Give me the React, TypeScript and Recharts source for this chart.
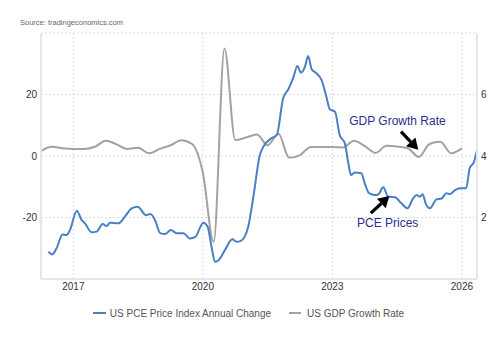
import React from 'react';
import {
  LineChart,
  Line,
  XAxis,
  YAxis,
  CartesianGrid,
  Legend,
  ReferenceLine,
  ReferenceDot,
} from 'recharts';

const FONT = 'Arial, "Liberation Sans", Helvetica, sans-serif';
const BLUE = '#4a7fc6';
const GRAY = '#a2a2a2';
const NAVY = '#2a2d8e';

// US GDP Growth Rate (left axis, %), quarterly
const gdpDates = [
  2016.25, 2016.5, 2016.75, 2017.0, 2017.25, 2017.5, 2017.75, 2018.0,
  2018.25, 2018.5, 2018.75, 2019.0, 2019.25, 2019.5, 2019.75, 2020.0,
  2020.25, 2020.5, 2020.75, 2021.0, 2021.25, 2021.5, 2021.75, 2022.0,
  2022.25, 2022.5, 2022.75, 2023.0, 2023.25, 2023.5, 2023.75, 2024.0,
  2024.25, 2024.5, 2024.75, 2025.0, 2025.25, 2025.5, 2025.75, 2026.0,
];
const gdpValues = [
  1.6, 3.0, 2.5, 2.3, 2.3, 3.0, 5.0, 3.8,
  2.3, 2.7, 0.9, 2.3, 3.5, 5.1, 3.9, -5.5,
  -28, 35, 5.2, 6.0, 7.0, 3.5, 7.2, -0.6,
  0.3, 2.9, 2.9, 2.9, 2.8, 5.0, 3.2, 1.0,
  3.3, 3.1, 2.5, -0.3, 3.9, 4.6, 0.9, 2.5,
];

// US PCE Price Index Annual Change (right axis, %)
const pceDates = [
  2016.42, 2016.51, 2016.61, 2016.75, 2016.84, 2016.92, 2017.08, 2017.19,
  2017.27, 2017.42, 2017.54, 2017.68, 2017.77, 2017.85, 2018.04, 2018.21,
  2018.35, 2018.49, 2018.68, 2018.78, 2018.89, 2019.01, 2019.12, 2019.26,
  2019.39, 2019.55, 2019.70, 2019.82, 2020.01, 2020.11, 2020.20, 2020.28,
  2020.37, 2020.51, 2020.68, 2020.78, 2020.88, 2021.05, 2021.17, 2021.32,
  2021.40, 2021.59, 2021.71, 2021.86, 2021.98, 2022.09, 2022.19, 2022.27,
  2022.36, 2022.44, 2022.52, 2022.63, 2022.75, 2022.86, 2022.94, 2023.06,
  2023.17, 2023.29, 2023.37, 2023.43, 2023.52, 2023.67, 2023.75, 2023.85,
  2023.98, 2024.06, 2024.18, 2024.29, 2024.45, 2024.60, 2024.74, 2024.87,
  2024.95, 2025.03, 2025.09, 2025.16, 2025.26, 2025.41, 2025.53, 2025.64,
  2025.72, 2025.84, 2025.95, 2026.10, 2026.18, 2026.28, 2026.35,
];
const pceValues = [
  0.89, 0.80, 1.0, 1.45, 1.43, 1.59, 2.22, 1.92,
  1.81, 1.52, 1.54, 1.79, 1.72, 1.83, 1.81, 2.06,
  2.30, 2.35, 2.08, 2.11, 1.92, 1.49, 1.46, 1.59,
  1.49, 1.49, 1.32, 1.36, 1.83, 1.70, 1.05, 0.56,
  0.62, 0.94, 1.29, 1.21, 1.24, 1.70, 2.68, 4.03,
  4.30, 4.58, 4.68, 5.88, 6.17, 6.53, 6.93, 6.71,
  6.88, 7.25, 6.82, 6.69, 6.47, 5.93, 5.52, 5.44,
  4.68, 4.41, 3.76, 3.38, 3.46, 3.44, 3.11, 2.79,
  2.73, 2.75, 2.98, 2.68, 2.66, 2.46, 2.30, 2.62,
  2.73, 2.68, 2.76, 2.46, 2.30, 2.59, 2.62, 2.79,
  2.76, 2.89, 2.95, 2.95, 3.60, 3.81, 4.20,
];

const xTicks = [2017, 2020, 2023, 2026];
const leftTicks = [-40, -20, 0, 20, 40];
const rightTicks = [0, 2, 4, 6, 8];

const gdpData = gdpDates.map((t, i) => ({ t, gdp: gdpValues[i] }));
const pceData = pceDates.map((t, i) => ({ t, pce: pceValues[i] }));

const Arrow = (p: any) => {
  const { x1, y1, x2, y2 } = p;
  const dx = x2 - x1;
  const dy = y2 - y1;
  const len = Math.sqrt(dx * dx + dy * dy) || 1;
  const ux = dx / len;
  const uy = dy / len;
  const hl = 11;
  const hw = 6.5;
  const bx = x2 - ux * hl;
  const by = y2 - uy * hl;
  const nx = -uy;
  const ny = ux;
  return (
    <g>
      <line x1={x1} y1={y1} x2={bx} y2={by} stroke="#000" strokeWidth={3.2} />
      <polygon
        points={`${x2},${y2} ${bx + nx * hw},${by + ny * hw} ${bx - nx * hw},${by - ny * hw}`}
        fill="#000"
      />
    </g>
  );
};

const makeLabel = (txt: string) => (p: any) => (
  <text x={p.cx} y={p.cy} fill={NAVY} fontSize={12} fontFamily={FONT}>
    {txt}
  </text>
);

const renderLegend = () => (
  <div
    style={{
      display: 'flex',
      justifyContent: 'center',
      alignItems: 'center',
      height: 20,
      fontSize: 10,
      color: '#555',
      fontFamily: FONT,
      whiteSpace: 'nowrap',
    }}
  >
    <span style={{ display: 'inline-block', width: 13, height: 2, background: BLUE, marginRight: 4 }} />
    <span>US PCE Price Index Annual Change</span>
    <span
      style={{ display: 'inline-block', width: 12, height: 2, background: GRAY, marginLeft: 18, marginRight: 6 }}
    />
    <span>US GDP Growth Rate</span>
  </div>
);

export default function App() {
  const tickStyle = { fontSize: 10, fill: '#333', fontFamily: FONT };
  return (
    <div
      style={{
        position: 'absolute',
        left: 0,
        top: 0,
        width: 497,
        height: 340,
        background: '#fff',
        fontFamily: FONT,
      }}
    >
      <div
        style={{
          position: 'absolute',
          left: 20,
          top: 19,
          fontSize: 7.5,
          lineHeight: '8px',
          color: '#666',
          whiteSpace: 'nowrap',
        }}
      >
        Source: tradingeconomics.com
      </div>
      <LineChart width={497} height={340} margin={{ top: 33, right: 0, bottom: 17, left: 0 }}>
        <CartesianGrid stroke="#dcdcdc" strokeDasharray="2 2" yAxisId="left" />
        <XAxis
          dataKey="t"
          type="number"
          domain={[2016.25, 2026.35]}
          ticks={xTicks}
          allowDataOverflow
          height={24}
          tickLine={false}
          tickSize={0}
          tickMargin={4}
          axisLine={{ stroke: '#e6e6e6', strokeWidth: 2 }}
          tick={tickStyle}
        />
        <YAxis
          yAxisId="left"
          orientation="left"
          domain={[-40, 40]}
          ticks={leftTicks}
          width={41}
          tickLine={false}
          tickSize={0}
          tickMargin={4}
          axisLine={{ stroke: '#e6e6e6', strokeWidth: 2 }}
          tick={tickStyle}
          tickFormatter={(v: number) => (Math.abs(v) === 40 ? '' : String(v))}
        />
        <YAxis
          yAxisId="right"
          orientation="right"
          domain={[0, 8]}
          ticks={rightTicks}
          width={20}
          tickLine={false}
          tickSize={0}
          tickMargin={4}
          axisLine={{ stroke: '#e6e6e6', strokeWidth: 2 }}
          tick={tickStyle}
          tickFormatter={(v: number) => (v === 0 || v === 8 ? '' : String(v))}
        />
        <Line
          data={gdpData}
          yAxisId="left"
          dataKey="gdp"
          name="US GDP Growth Rate"
          type="monotone"
          stroke={GRAY}
          strokeWidth={2}
          dot={false}
          isAnimationActive={false}
        />
        <Line
          data={pceData}
          yAxisId="right"
          dataKey="pce"
          name="US PCE Price Index Annual Change"
          type="monotone"
          stroke={BLUE}
          strokeWidth={2}
          dot={false}
          isAnimationActive={false}
        />
        <ReferenceDot yAxisId="right" x={2023.39} y={5.01} r={0} shape={makeLabel('GDP Growth Rate')} />
        <ReferenceDot yAxisId="right" x={2023.57} y={1.70} r={0} shape={makeLabel('PCE Prices')} />
        <ReferenceLine
          yAxisId="right"
          segment={[
            { x: 2024.59, y: 4.79 },
            { x: 2024.99, y: 4.2 },
          ]}
          shape={Arrow}
        />
        <ReferenceLine
          yAxisId="right"
          segment={[
            { x: 2023.89, y: 2.14 },
            { x: 2024.32, y: 2.7 },
          ]}
          shape={Arrow}
        />
        <Legend verticalAlign="bottom" content={renderLegend} />
      </LineChart>
    </div>
  );
}
